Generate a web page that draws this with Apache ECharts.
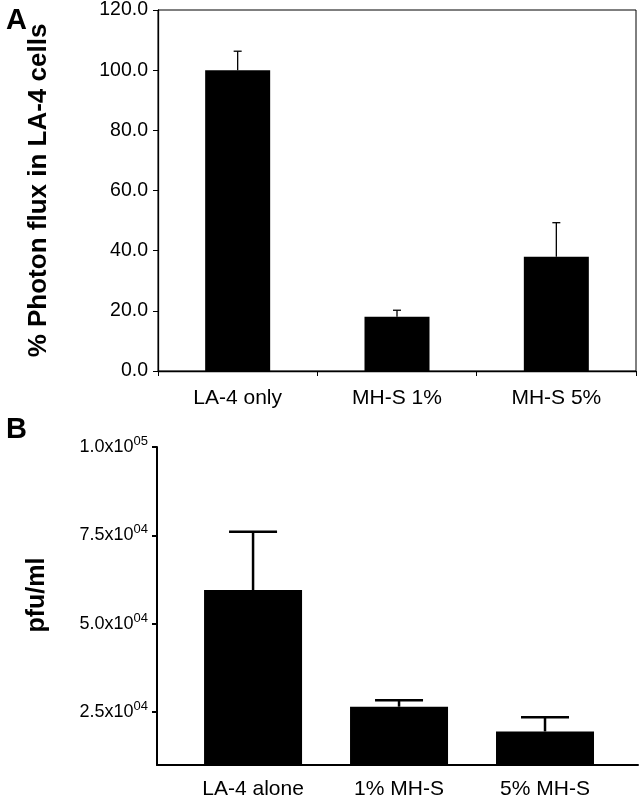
<!DOCTYPE html>
<html>
<head>
<meta charset="utf-8">
<script src="https://cdn.jsdelivr.net/npm/echarts@6/dist/echarts.min.js"></script>
<style>html,body{margin:0;padding:0;background:#fff;}#c{width:640px;height:800px;}</style>
</head>
<body>
<div id="c"></div>
<script>
// Panel A data
const catsA = ['LA-4 only', 'MH-S 1%', 'MH-S 5%'];
const meanA = [100.0, 18.0, 38.0];
const upperA = [106.3, 20.2, 49.3];
const yTicksA = [0, 20, 40, 60, 80, 100, 120];

// Panel B data
const catsB = ['LA-4 alone', '1% MH-S', '5% MH-S'];
const meanB = [59500, 26500, 19500];
const upperB = [76000, 28300, 23500];
const yTickValuesB = [25000, 50000, 75000, 100000];
const yTickMantB = ['2.5', '5.0', '7.5', '1.0'];
const yTickExpB = ['04', '04', '04', '05'];

const FONT = 'Liberation Sans, Arial, Helvetica, sans-serif';

function errItem(lw, cap) {
  return function (params, api) {
    const base = api.coord([api.value(0), api.value(1)]);
    const top = api.coord([api.value(0), api.value(2)]);
    return {
      type: 'group',
      children: [
        { type: 'line', shape: { x1: base[0], y1: base[1], x2: top[0], y2: top[1] }, style: { stroke: '#000', lineWidth: lw } },
        { type: 'line', shape: { x1: top[0] - cap / 2, y1: top[1], x2: top[0] + cap / 2, y2: top[1] }, style: { stroke: '#000', lineWidth: lw } }
      ]
    };
  };
}

const chart = echarts.init(document.getElementById('c'), null, { renderer: 'canvas' });
chart.setOption({
  animation: false,
  backgroundColor: '#fff',
  textStyle: { fontFamily: FONT },
  title: [
    { text: 'A', left: 1, top: 1, textStyle: { fontSize: 29, fontWeight: 'bold', color: '#000', fontFamily: FONT } },
    { text: 'B', left: 1, top: 410, textStyle: { fontSize: 29, fontWeight: 'bold', color: '#000', fontFamily: FONT } }
  ],
  grid: [
    { left: 158, top: 7, width: 478, height: 364, show: true, borderColor: '#000', borderWidth: 1, backgroundColor: 'transparent' },
    { left: 157, top: 447, width: 481, height: 320 }
  ],
  xAxis: [
    {
      gridIndex: 0, type: 'category', data: catsA,
      axisLine: { lineStyle: { color: '#000', width: 1.3 } },
      axisTick: { show: true, length: 5, lineStyle: { color: '#000' } },
      axisLabel: { color: '#000', fontSize: 21, margin: 17, fontFamily: FONT }
    },
    {
      gridIndex: 1, type: 'value', min: -0.658, max: 2.637,
      splitLine: { show: false },
      axisLine: { onZero: false, lineStyle: { color: '#000', width: 2 } },
      axisTick: { show: false },
      axisLabel: {
        customValues: [0, 1, 2], color: '#000', fontSize: 21, margin: 14, fontFamily: FONT,
        formatter: function (v) { return catsB[Math.round(v)]; }
      }
    }
  ],
  yAxis: [
    {
      gridIndex: 0, type: 'value', min: 0, max: 120, interval: 20,
      splitLine: { show: false },
      axisLine: { show: true, lineStyle: { color: '#000', width: 1.3 } },
      axisTick: { show: true, length: 5, lineStyle: { color: '#000' } },
      axisLabel: { color: '#000', fontSize: 19.5, margin: 10, fontFamily: FONT, formatter: function (v) { return v.toFixed(1); } },
      name: '% Photon flux in LA-4 cells', nameLocation: 'middle', nameRotate: 90, nameGap: 106,
      nameTextStyle: { fontSize: 26, fontWeight: 'bold', color: '#000', fontFamily: FONT }
    },
    {
      gridIndex: 1, type: 'value', min: 10000, max: 100000,
      splitLine: { show: false },
      axisLine: { show: true, onZero: false, lineStyle: { color: '#000', width: 2 } },
      axisTick: { show: true, length: 5, customValues: yTickValuesB, lineStyle: { color: '#000', width: 2 } },
      axisLabel: {
        customValues: yTickValuesB, margin: 9, color: '#000', fontFamily: FONT, fontSize: 18,
        formatter: function (v) {
          const i = yTickValuesB.indexOf(v);
          return '{m|' + yTickMantB[i] + 'x10}{s|' + yTickExpB[i] + '}';
        },
        rich: {
          m: { fontSize: 18, color: '#000', fontFamily: FONT },
          s: { fontSize: 13, color: '#000', fontFamily: FONT, verticalAlign: 'bottom', padding: [0, 0, 11, 0] }
        }
      },
      name: 'pfu/ml', nameLocation: 'middle', nameRotate: 90, nameGap: 107,
      nameTextStyle: { fontSize: 25, fontWeight: 'bold', color: '#000', fontFamily: FONT, padding: [0, 0, 0, 22] }
    }
  ],
  series: [
    { type: 'bar', xAxisIndex: 0, yAxisIndex: 0, data: meanA, barWidth: 65, itemStyle: { color: '#000' }, z: 2 },
    {
      type: 'custom', xAxisIndex: 0, yAxisIndex: 0, z: 1,
      data: meanA.map(function (m, i) { return [i, m, upperA[i]]; }),
      renderItem: errItem(1.3, 8)
    },
    {
      type: 'bar', xAxisIndex: 1, yAxisIndex: 1, barWidth: 98, itemStyle: { color: '#000' }, z: 2,
      data: meanB.map(function (m, i) { return [i, m]; })
    },
    {
      type: 'custom', xAxisIndex: 1, yAxisIndex: 1, z: 1,
      data: meanB.map(function (m, i) { return [i, m, upperB[i]]; }),
      renderItem: errItem(2.5, 48)
    }
  ]
});
</script>
</body>
</html>
